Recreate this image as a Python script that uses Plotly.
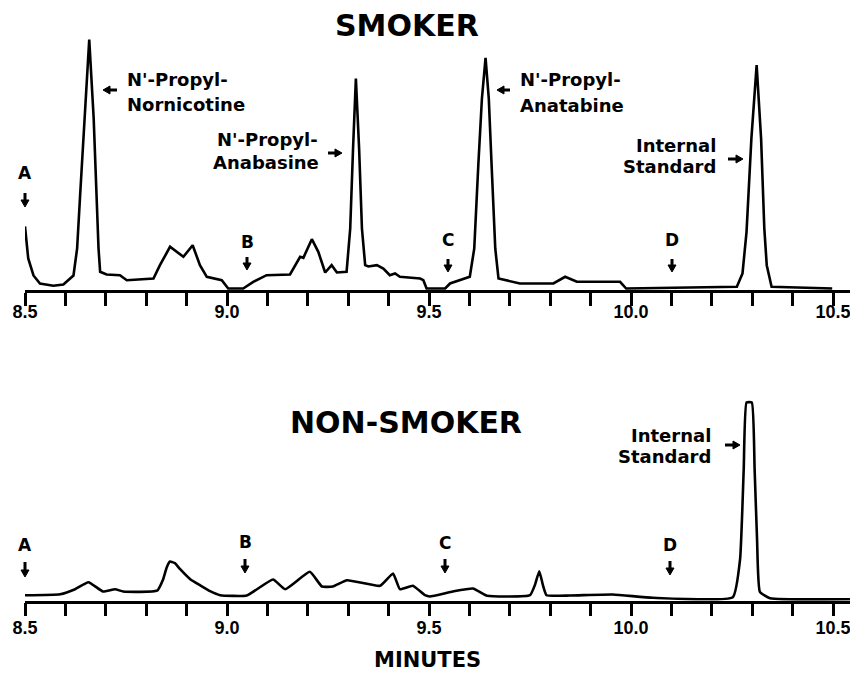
import plotly.graph_objects as go

# ---------------- data ----------------
# Smoker chromatogram (retention time in minutes, detector response)
smoker_t = [8.500, 8.508, 8.521, 8.537, 8.570, 8.595, 8.620, 8.629, 8.636, 8.647, 8.659,
            8.670, 8.677, 8.682, 8.686, 8.702, 8.735, 8.752, 8.818, 8.834, 8.859, 8.892,
            8.915, 8.933, 8.950, 8.987, 9.003, 9.040, 9.065, 9.098, 9.156, 9.173, 9.181,
            9.189, 9.210, 9.226, 9.243, 9.259, 9.272, 9.296, 9.305, 9.312, 9.319, 9.327,
            9.334, 9.342, 9.350, 9.371, 9.387, 9.403, 9.416, 9.428, 9.478, 9.486, 9.494,
            9.540, 9.552, 9.601, 9.612, 9.622, 9.631, 9.640, 9.648, 9.655, 9.664, 9.672,
            9.725, 9.808, 9.837, 9.866, 9.973, 9.988, 10.262, 10.276, 10.286, 10.298,
            10.311, 10.322, 10.330, 10.336, 10.348, 10.498]
smoker_y = [62, 30, 13, 5, 2.7, 4, 13, 40, 90, 170, 249,
            170, 90, 40, 16.7, 14, 13.3, 8.3, 10, 23.3, 41.7, 31.7,
            43.3, 23.3, 11.7, 8.3, 0, 0, 6.7, 13.3, 14, 26.7, 31.7,
            30.7, 49.3, 36.7, 16, 23.3, 16, 16.7, 60, 140, 210, 140,
            60, 23.3, 22, 23.3, 20, 13.3, 15, 11.7, 10, 8.3, 0,
            0, 5, 11.7, 40, 123, 190, 230.7, 190, 123, 40, 10,
            5, 5, 11.7, 6.7, 6.7, 0, 1.7, 15, 56.7, 150,
            223.3, 150, 60, 23.3, 1.7, 0]

# Non-smoker chromatogram
nonsmoker_t = [8.500, 8.587, 8.624, 8.657, 8.693, 8.723, 8.743, 8.827, 8.842, 8.851,
               8.859, 8.871, 8.884, 8.909, 8.933, 8.958, 8.983, 9.049, 9.114, 9.144,
               9.205, 9.235, 9.262, 9.297, 9.379, 9.411, 9.428, 9.460, 9.490, 9.502,
               9.559, 9.609, 9.644, 9.750, 9.762, 9.773, 9.782, 9.791, 9.849, 9.955,
               10.054, 10.252, 10.270, 10.279, 10.286, 10.299, 10.306, 10.312, 10.319,
               10.344, 10.560]
nonsmoker_y = [4, 5, 10, 17, 7.7, 10, 7.7, 8.5, 20, 32,
               37.7, 36, 30, 20, 14, 8, 4, 3.7, 19.7, 10,
               27.4, 12.7, 12.7, 19, 13.4, 25.7, 10, 13.4, 4, 2.7,
               7.7, 10.7, 3.4, 4, 14, 28, 14, 4, 3.7, 4.7,
               1.4, 2, 40, 130, 196.7, 196.7, 130, 60, 7.4,
               1, 0]

tick_vals = [8.5, 8.6, 8.7, 8.8, 8.9, 9.0, 9.1, 9.2, 9.3, 9.4, 9.5, 9.6, 9.7, 9.8, 9.9,
             10.0, 10.1, 10.2, 10.3, 10.4, 10.5]
tick_text = ["8.5", "", "", "", "", "9.0", "", "", "", "", "9.5", "", "", "", "",
             "10.0", "", "", "", "", "10.5"]

# ---------------- layout helpers ----------------
OFF = 8                      # page body margin
W, H = 858 - 2 * OFF, 681 - 2 * OFF
FONT = "DejaVu Sans, Verdana, sans-serif"
TICKFONT = "Liberation Sans, Arial, Helvetica, sans-serif"


def fx(x):
    return (x - OFF) / W


def fy(y):
    return 1 - (y - OFF) / H


annotations = []
shapes = []


def label(text, x, y, size=18, anchor="left", yanchor="middle"):
    annotations.append(dict(text=text, x=fx(x), y=fy(y), xref="paper", yref="paper",
                            xanchor=anchor, yanchor=yanchor, showarrow=False, borderpad=0,
                            font=dict(family=FONT, size=size, color="black", weight="bold")))


def arrow(x, y, direction, length=14, head_len=7, head_w=8, shaft_w=3):
    # (x, y) = tip of the arrow in screen pixels
    if direction == "down":
        tail = (x, y - length); base = (x, y - head_len + 1)
        h1 = (x - head_w / 2, y - head_len); h2 = (x + head_w / 2, y - head_len)
    elif direction == "left":
        tail = (x + length, y); base = (x + head_len - 1, y)
        h1 = (x + head_len, y - head_w / 2); h2 = (x + head_len, y + head_w / 2)
    else:  # right
        tail = (x - length, y); base = (x - head_len + 1, y)
        h1 = (x - head_len, y - head_w / 2); h2 = (x - head_len, y + head_w / 2)
    shapes.append(dict(type="line", xref="paper", yref="paper",
                       x0=fx(tail[0]), y0=fy(tail[1]), x1=fx(base[0]), y1=fy(base[1]),
                       line=dict(color="black", width=shaft_w)))
    path = "M {:.5f},{:.5f} L {:.5f},{:.5f} L {:.5f},{:.5f} Z".format(
        fx(x), fy(y), fx(h1[0]), fy(h1[1]), fx(h2[0]), fy(h2[1]))
    shapes.append(dict(type="path", xref="paper", yref="paper", path=path,
                       fillcolor="black", line=dict(color="black", width=1)))


# top panel texts
label("SMOKER", 407, 25, size=30, anchor="center")
label("A", 25, 173, size=17, anchor="center"); arrow(25, 207, "down")
label("B", 247, 242, size=17, anchor="center"); arrow(247, 270, "down", length=13)
label("C", 448, 240, size=17, anchor="center"); arrow(448, 272, "down", length=13)
label("D", 672, 240, size=17, anchor="center"); arrow(672, 272, "down", length=13)
label("N'-Propyl-", 126, 80); label("Nornicotine", 126, 104); arrow(103, 90, "left")
label("N'-Propyl-", 319, 140, anchor="right"); label("Anabasine", 320, 163, anchor="right"); arrow(342, 153, "right")
label("N'-Propyl-", 519, 80); label("Anatabine", 519, 105); arrow(497, 90, "left", length=13)
label("Internal", 717, 145, anchor="right"); label("Standard", 717, 166, anchor="right"); arrow(743, 159, "right", length=15)

# bottom panel texts
label("NON-SMOKER", 406, 422, size=30, anchor="center")
label("A", 25, 545, size=17, anchor="center"); arrow(25, 577, "down", length=15)
label("B", 245, 542, size=17, anchor="center"); arrow(245, 573, "down")
label("C", 445, 543, size=17, anchor="center"); arrow(445, 573, "down")
label("D", 670, 545, size=17, anchor="center"); arrow(670, 575, "down")
label("Internal", 712, 435, anchor="right"); label("Standard", 712, 456, anchor="right"); arrow(740, 445, "right", length=15)
label("MINUTES", 427, 673, size=21, anchor="center", yanchor="bottom")

# ---------------- figure ----------------
fig = go.Figure()
fig.add_trace(go.Scatter(x=smoker_t, y=smoker_y, mode="lines",
                         line=dict(color="black", width=2.6), xaxis="x", yaxis="y",
                         showlegend=False, hoverinfo="skip"))
fig.add_trace(go.Scatter(x=nonsmoker_t, y=nonsmoker_y, mode="lines",
                         line=dict(color="black", width=2.6, shape="spline", smoothing=0.4),
                         xaxis="x2", yaxis="y2", showlegend=False, hoverinfo="skip"))

PXMIN = 404.0                     # screen pixels per minute
x0 = 8.5
x1 = 8.5 + (858 - OFF - 25) / PXMIN
xaxis_common = dict(range=[x0, x1], domain=[fx(25), 1], showgrid=False, zeroline=False,
                    showline=True, linecolor="black", linewidth=2.5, automargin=False,
                    tickmode="array", tickvals=tick_vals, ticktext=tick_text,
                    ticks="outside", ticklen=13, tickwidth=2.5, tickcolor="black",
                    ticklabeloverflow="allow",
                    tickfont=dict(family=TICKFONT, size=18, color="black", weight="bold"),
                    fixedrange=True)

fig.update_layout(
    width=W, height=H, margin=dict(l=0, r=0, t=0, b=0, pad=0, autoexpand=False),
    paper_bgcolor="white", plot_bgcolor="white",
    xaxis=dict(**xaxis_common, anchor="y", ticklabelstandoff=-9),
    yaxis=dict(domain=[fy(290), fy(30)], range=[-1.5, 258.5], visible=False, fixedrange=True),
    xaxis2=dict(**xaxis_common, anchor="y2", ticklabelstandoff=-4),
    yaxis2=dict(domain=[fy(600.7), fy(340.7)], range=[-1.5, 258.5], visible=False, fixedrange=True),
    annotations=annotations,
    shapes=shapes,
    showlegend=False,
)

fig.write_html("out.html")
